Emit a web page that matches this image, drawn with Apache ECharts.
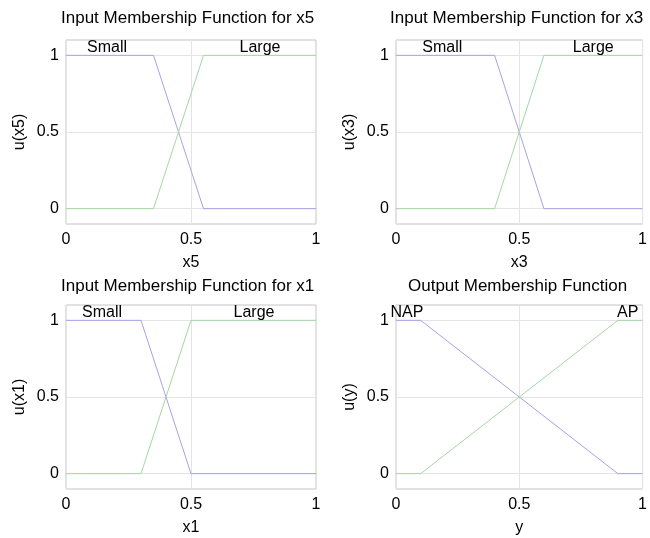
<!DOCTYPE html>
<html>
<head>
<meta charset="utf-8">
<script src="https://cdn.jsdelivr.net/npm/echarts@6/dist/echarts.min.js"></script>
<style>
html,body{margin:0;padding:0;background:#fff;}
#chart{width:650px;height:538px;}
</style>
</head>
<body>
<div id="chart"></div>
<script>
// ---- data ----
const xTicks = [0, 0.5, 1];
const yTicks = [0, 0.5, 1];
const titles = ['Input Membership Function for x5', 'Input Membership Function for x3', 'Input Membership Function for x1', 'Output Membership Function'];
const xNames = ['x5', 'x3', 'x1', 'y'];
const yNames = ['u(x5)', 'u(x3)', 'u(x1)', 'u(y)'];

const x5Small = [[0, 1], [0.35, 1], [0.55, 0], [1, 0]];
const x5Large = [[0, 0], [0.35, 0], [0.55, 1], [1, 1]];
const x3Small = [[0, 1], [0.4, 1], [0.6, 0], [1, 0]];
const x3Large = [[0, 0], [0.4, 0], [0.6, 1], [1, 1]];
const x1Small = [[0, 1], [0.3, 1], [0.5, 0], [1, 0]];
const x1Large = [[0, 0], [0.3, 0], [0.5, 1], [1, 1]];
const yNAP = [[0, 1], [0.1, 1], [0.9, 0], [1, 0]];
const yAP = [[0, 0], [0.1, 0], [0.9, 1], [1, 1]];

const mfNames = [['Small', 'Large'], ['Small', 'Large'], ['Small', 'Large'], ['NAP', 'AP']];
const mfLabelPos = [
  [[0.164, 1.05], [0.776, 1.05]],
  [[0.188, 1.05], [0.800, 1.05]],
  [[0.144, 1.05], [0.752, 1.05]],
  [[0.044, 1.05], [0.940, 1.05]]
];
const curves = [[x5Small, x5Large], [x3Small, x3Large], [x1Small, x1Large], [yNAP, yAP]];

// ---- layout ----
const FONT = 'Liberation Sans, Arial, sans-serif';
const gridBoxes = [
  {left: 66, top: 40, width: 250, height: 184},
  {left: 396, top: 40, width: 250, height: 184},
  {left: 66, top: 305, width: 250, height: 184},
  {left: 396, top: 305, width: 250, height: 184}
];
const titleLefts = [61, 390, 61, 408];
const titleTops = [10, 10, 278, 278];
const blue = '#a4a4e8';
const green = '#a4d8a4';

const option = {
  backgroundColor: '#fff',
  animation: false,
  title: titles.map((t, i) => ({
    text: t, left: titleLefts[i], top: titleTops[i], padding: 0,
    textStyle: {fontFamily: FONT, fontSize: 17, fontWeight: 'normal', color: '#000'}
  })),
  grid: gridBoxes.map(g => Object.assign({show: true, borderColor: '#c4c4c4', borderWidth: 1, backgroundColor: 'transparent', containLabel: false}, g)),
  xAxis: gridBoxes.map((g, i) => ({
    type: 'value', gridIndex: i, min: 0, max: 1,
    name: xNames[i], nameLocation: 'middle', nameGap: 31,
    nameTextStyle: {fontFamily: FONT, fontSize: 16, color: '#000'},
    axisLine: {show: false},
    axisTick: {show: false, customValues: xTicks},
    axisLabel: {customValues: xTicks, fontFamily: FONT, fontSize: 16, color: '#000', margin: 8, formatter: v => String(v)},
    splitLine: {show: true, lineStyle: {color: '#e4e4e4', width: 1}}
  })),
  yAxis: gridBoxes.map((g, i) => ({
    type: 'value', gridIndex: i, min: -0.1, max: 1.1,
    name: yNames[i], nameLocation: 'middle', nameGap: 38, nameRotate: 90,
    nameTextStyle: {fontFamily: FONT, fontSize: 16, color: '#000'},
    axisLine: {show: false},
    axisTick: {show: false, customValues: yTicks},
    axisLabel: {customValues: yTicks, fontFamily: FONT, fontSize: 16, color: '#000', margin: 7, formatter: v => String(v)},
    splitLine: {show: true, lineStyle: {color: '#e4e4e4', width: 1}}
  })),
  series: []
};

curves.forEach((pair, i) => {
  option.series.push({
    type: 'line', xAxisIndex: i, yAxisIndex: i, data: pair[0], showSymbol: false, symbol: 'none',
    lineStyle: {color: blue, width: 1}, silent: true, z: 3
  });
  option.series.push({
    type: 'line', xAxisIndex: i, yAxisIndex: i, data: pair[1], showSymbol: false, symbol: 'none',
    lineStyle: {color: green, width: 1}, silent: true, z: 3
  });
  option.series.push({
    type: 'scatter', xAxisIndex: i, yAxisIndex: i, symbolSize: 0, silent: true, z: 5,
    itemStyle: {color: '#000', opacity: 1},
    data: mfNames[i].map((n, k) => ({name: n, value: mfLabelPos[i][k]})),
    label: {show: true, position: 'inside', formatter: '{b}', fontFamily: FONT, fontSize: 16, color: '#000', textBorderWidth: 0, opacity: 1}
  });
});

const chart = echarts.init(document.getElementById('chart'), null, {renderer: 'canvas'});
chart.setOption(option);
</script>
</body>
</html>
